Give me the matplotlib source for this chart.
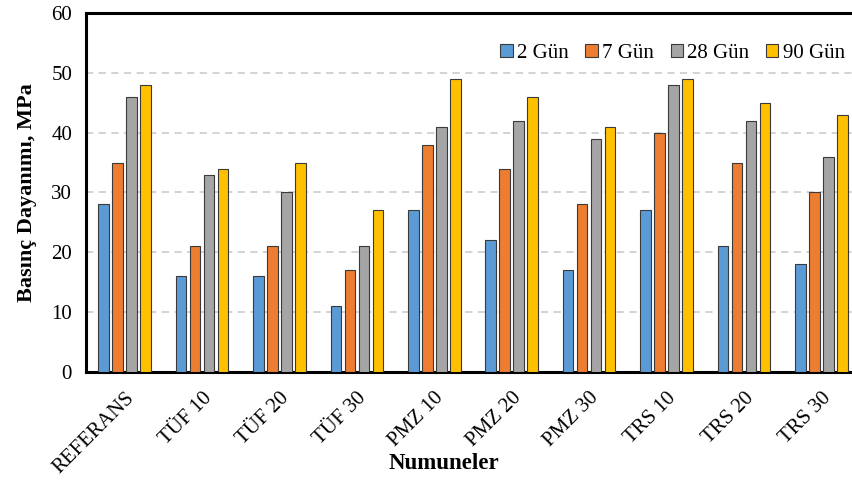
import numpy as np
import matplotlib.pyplot as plt

plt.rcParams['font.family'] = ['Liberation Serif', 'DejaVu Serif']

samples = ['REFERANS', 'TÜF 10', 'TÜF 20', 'TÜF 30', 'PMZ 10',
           'PMZ 20', 'PMZ 30', 'TRS 10', 'TRS 20', 'TRS 30']
series = ['2 Gün', '7 Gün', '28 Gün', '90 Gün']
day2 = [28, 16, 16, 11, 27, 22, 17, 27, 21, 18]
day7 = [35, 21, 21, 17, 38, 34, 28, 40, 35, 30]
day28 = [46, 33, 30, 21, 41, 42, 39, 48, 42, 36]
day90 = [48, 34, 35, 27, 49, 46, 41, 49, 45, 43]
colors = ['#5B9BD5', '#ED7D31', '#A5A5A5', '#FFC000']

fig = plt.figure(figsize=(8.53, 4.8), dpi=100)
ax = fig.add_axes([0.1008, 0.225, 0.9075, 0.748])

x = np.arange(len(samples))
width = 0.136
pitch = 0.181
for i, (vals, name) in enumerate(zip([day2, day7, day28, day90], series)):
    ax.bar(x + (i - 1.5) * pitch, vals, width, color=colors[i],
           edgecolor='#3a3a3a', linewidth=0.8, label=name, zorder=3)

ax.set_xlim(-0.5, 9.5)
ax.set_ylim(0, 60)
ax.set_yticks(range(0, 61, 10))
ax.set_xticks(x)
ax.set_xticklabels(samples, rotation=45, ha='right', rotation_mode='anchor')
ax.tick_params(axis='both', length=0, labelsize=15)
ax.tick_params(axis='y', pad=10)
ax.tick_params(axis='x', pad=12)

ax.yaxis.grid(True, linestyle=(0, (4, 3)), color='#d0d0d0', linewidth=1.3, zorder=0)

for side in ['left', 'top', 'bottom']:
    ax.spines[side].set_linewidth(2.2)
    ax.spines[side].set_color('black')
ax.spines['right'].set_visible(False)

ax.set_ylabel('Basınç Dayanımı, MPa', fontsize=16, fontweight='bold', labelpad=10)
fig.text(0.52, 0.035, 'Numuneler', fontsize=16.5, fontweight='bold',
         ha='center', va='center')

ax.legend(loc='upper right', bbox_to_anchor=(1.005, 0.935), bbox_transform=fig.transFigure,
          ncol=4, frameon=False, fontsize=15, handlelength=0.6, handleheight=0.6,
          handletextpad=0.2, columnspacing=0.8, borderaxespad=0.2)

fig.savefig('out.png', dpi=100)
